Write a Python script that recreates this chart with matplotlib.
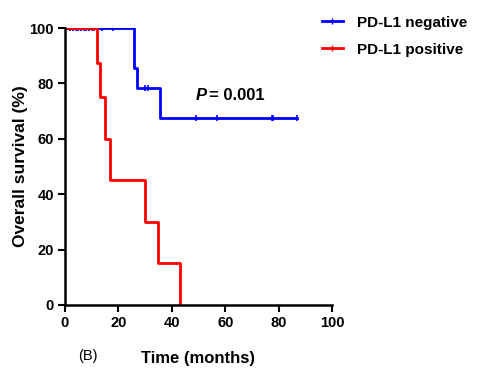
import matplotlib.pyplot as plt
from matplotlib.lines import Line2D

# Kaplan-Meier steps
neg_time = [0, 26, 27, 35.6, 87]
neg_surv = [100, 85.6, 78.4, 67.5, 67.5]
neg_censor = [2, 3, 4, 5, 6, 7, 8, 9, 10, 14, 18, 30, 31, 49, 57, 77.4, 78, 87]

pos_time = [0, 12, 13, 15, 17, 30, 35, 43]
pos_surv = [100, 87.5, 75, 60, 45, 30, 15, 0]
pos_censor = [11]

xticks = [0, 20, 40, 60, 80, 100]
yticks = [0, 20, 40, 60, 80, 100]

fam = ['Liberation Sans', 'DejaVu Sans']


def surv_at(times, survs, t):
    s = survs[0]
    for ti, si in zip(times, survs):
        if ti <= t:
            s = si
    return s


fig = plt.figure(figsize=(4.85, 3.91), dpi=100)
ax = fig.add_axes([65 / 485, 1 - 305 / 391, 267 / 485, 277 / 391])

ax.step(neg_time, neg_surv, where='post', color='#0000ff', lw=2)
ax.plot(neg_censor, [surv_at(neg_time, neg_surv, t) for t in neg_censor],
        ls='none', marker='|', ms=4, mew=1.2, color='#0000ff')
ax.step(pos_time, pos_surv, where='post', color='#ff0000', lw=2)
ax.plot(pos_censor, [surv_at(pos_time, pos_surv, t) for t in pos_censor],
        ls='none', marker='|', ms=4, mew=1.2, color='#ff0000')

ax.set_xlim(0, 100)
ax.set_ylim(0, 100)
ax.set_xticks(xticks)
ax.set_yticks(yticks)
for s in ['top', 'right']:
    ax.spines[s].set_visible(False)
for s in ['left', 'bottom']:
    ax.spines[s].set_linewidth(1.8)
    ax.spines[s].set_clip_on(False)
ax.tick_params(width=1.5, length=5, direction='out', pad=3)
for lab in ax.get_xticklabels() + ax.get_yticklabels():
    lab.set_fontfamily(fam)
    lab.set_fontweight('bold')
    lab.set_fontsize(10.5)

ax.set_xlabel('Time (months)', family=fam, fontweight='bold', fontsize=12, labelpad=15)
ax.set_ylabel('Overall survival (%)', family=fam, fontweight='bold', fontsize=12.5)
ax.yaxis.set_label_coords(-0.14, 0.5)

ax.text(196 / 485, 1 - 96 / 391, 'P', transform=fig.transFigure, family=fam,
        fontweight='bold', style='italic', fontsize=12, va='center')
ax.text(209 / 485, 1 - 96 / 391, '= 0.001', transform=fig.transFigure, family=fam,
        fontweight='bold', fontsize=12, va='center')

handles = [Line2D([], [], color='#0000ff', lw=2, marker='|', ms=4, mew=1),
           Line2D([], [], color='#ff0000', lw=2, marker='|', ms=4, mew=1)]
fig.legend(handles, ['PD-L1 negative', 'PD-L1 positive'], loc='upper left',
           bbox_to_anchor=(308 / 485, 1 - 2 / 391), frameon=False,
           prop={'family': fam, 'weight': 'bold', 'size': 11},
           handlelength=1.4, handletextpad=0.9, labelspacing=0.85)

fig.text(78 / 485, 1 - 356 / 391, '(B)', family=fam, fontsize=10.5, va='center')

fig.savefig('out.png', dpi=100)
